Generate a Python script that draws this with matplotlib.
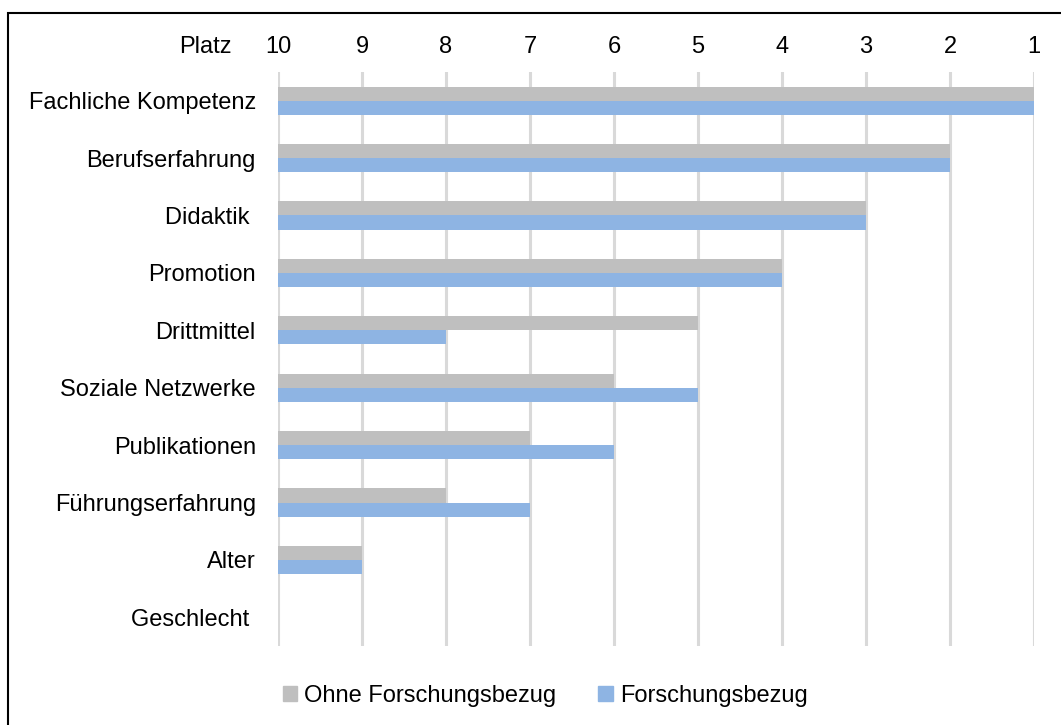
import matplotlib.pyplot as plt
from matplotlib.patches import Patch, Rectangle

plt.rcParams['font.family'] = ['Liberation Sans', 'DejaVu Sans']

# Data: ranking (Platz 1 = best, 10 = worst)
kriterien = ['Fachliche Kompetenz', 'Berufserfahrung', 'Didaktik ', 'Promotion',
             'Drittmittel', 'Soziale Netzwerke', 'Publikationen',
             'Führungserfahrung', 'Alter', 'Geschlecht ']
ohne_forschung = [1, 2, 3, 4, 5, 6, 7, 8, 9, 10]
mit_forschung = [1, 2, 3, 4, 8, 5, 6, 7, 9, 10]
platz_ticks = [10, 9, 8, 7, 6, 5, 4, 3, 2, 1]

c_grau = '#bfbfbf'
c_blau = '#8eb4e3'

W, H = 1061, 725
fig = plt.figure(figsize=(W / 100, H / 100), dpi=100)
ax = fig.add_axes([278 / W, 1 - 646 / H, (1034 - 278) / W, (646 - 72) / H])

# outer frame (only top and left visible in the reference)
fig.patches.append(Rectangle((8 / W, -0.1), 1.2, 1 - 13 / H + 0.1, transform=fig.transFigure,
                             fill=False, edgecolor='black', linewidth=1.5))

y = list(range(len(kriterien)))
h = 0.245
ax.barh([i - h / 2 for i in y], [v - 10 for v in ohne_forschung], left=10, height=h,
        color=c_grau, zorder=3)
ax.barh([i + h / 2 for i in y], [v - 10 for v in mit_forschung], left=10, height=h,
        color=c_blau, zorder=3)

ax.set_xlim(10, 1)
ax.set_ylim(len(kriterien) - 0.5, -0.5)
ax.set_yticks(y)
ax.set_yticklabels(kriterien, fontsize=17)
ax.set_xticks(platz_ticks)
ax.set_xticklabels([str(t) for t in platz_ticks], fontsize=17)
ax.xaxis.tick_top()
ax.tick_params(axis='x', length=0, pad=10)
ax.tick_params(axis='y', length=0, pad=16)
for s in ax.spines.values():
    s.set_visible(False)
ax.grid(axis='x', color='#d9d9d9', linewidth=2.2, zorder=0)
ax.set_axisbelow(True)

fig.text(232 / W, 1 - 47 / H, 'Platz', fontsize=17, ha='right', va='center')

handles = [Patch(color=c_grau, label='Ohne Forschungsbezug'),
           Patch(color=c_blau, label='Forschungsbezug')]
fig.legend(handles=handles, loc='center', bbox_to_anchor=(545 / W, 1 - 696 / H), ncol=2,
           frameon=False, fontsize=17, handlelength=0.6, handleheight=0.6,
           handletextpad=0.3, columnspacing=1.8)

fig.savefig('out.png', dpi=100)
